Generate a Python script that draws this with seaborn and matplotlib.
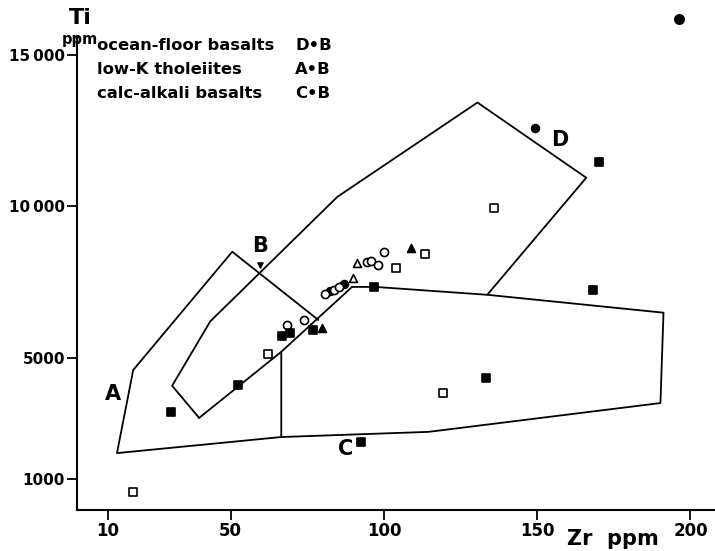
import numpy as np
import pandas as pd
import matplotlib
matplotlib.use("Agg")
import matplotlib.pyplot as plt
import seaborn as sns

# ---------------- data ----------------
filled_circle_zr = [196.1, 149.4, 87.0, 82.5]
filled_circle_ti = [16190, 12590, 7440, 7210]

open_circle_zr = [68.4, 74.0, 80.8, 83.8, 85.4, 94.6, 95.9, 98.1, 100.1]
open_circle_ti = [6090, 6250, 7110, 7240, 7340, 8170, 8200, 8070, 8500]

open_tri_zr = [91.3, 90.0]
open_tri_ti = [8135, 7640]

filled_tri_zr = [108.9, 79.9]
filled_tri_ti = [8630, 5990]

filled_sq_zr = [30.6, 52.4, 66.8, 69.4, 76.9, 96.8, 133.4, 92.6, 168.3, 170.3]
filled_sq_ti = [3220, 4110, 5730, 5830, 5920, 7340, 4340, 2230, 7240, 11470]

open_sq_zr = [18.2, 62.2, 104.0, 113.5, 136.0, 119.4]
open_sq_ti = [580, 5130, 7970, 8430, 9950, 3840]

# field boundaries
field_a_zr = [66.5, 12.9, 18.2, 50.5, 78.6]
field_a_ti = [2390, 1860, 4600, 8500, 6250]

field_d_zr = [39.7, 30.9, 43.3, 84.8, 130.5, 166.0, 133.7]
field_d_ti = [3020, 4080, 6200, 10310, 13420, 10940, 7080]

field_b_low_zr = [39.7, 66.5, 89.6]
field_b_low_ti = [3020, 5200, 7340]

field_c_zr = [89.6, 97.1, 133.7, 191.2, 190.2, 114.5, 66.5, 66.5]
field_c_ti = [7340, 7340, 7080, 6490, 3510, 2560, 2390, 5200]

x_ticks = [10, 50, 100, 150, 200]
x_tick_labels = ["10", "50", "100", "150", "200"]
y_ticks = [1000, 5000, 10000, 15000]
y_tick_labels = ["1000", "5000", "10\u2009000", "15\u2009000"]

legend_names = ["ocean-floor basalts", "low-K tholeiites", "calc-alkali basalts"]
legend_codes = ["D\u2022B", "A\u2022B", "C\u2022B"]

# ---------------- figure ----------------
sns.set_style("ticks")
plt.rcParams["font.family"] = ["DejaVu Sans"]
plt.rcParams["font.weight"] = "bold"
for k in ["text.color", "axes.labelcolor", "xtick.color", "ytick.color",
          "axes.edgecolor"]:
    plt.rcParams[k] = "black"

fig = plt.figure(figsize=(7.15, 5.51), dpi=100)
ax = fig.add_axes([0.1083, 0.0753, 0.8917, 0.9247])
ax.set_xlim(0, 208)
ax.set_ylim(0, 16800)

lw = 1.3
def poly(xs, ys):
    df = pd.DataFrame({"x": xs, "y": ys})
    sns.lineplot(data=df, x="x", y="y", sort=False, estimator=None,
                 color="black", linewidth=lw, ax=ax)

poly(field_a_zr, field_a_ti)
poly(field_d_zr, field_d_ti)
poly(field_b_low_zr, field_b_low_ti)
poly(field_c_zr, field_c_ti)

def pts(xs, ys, marker, filled, s):
    df = pd.DataFrame({"x": xs, "y": ys})
    sns.scatterplot(data=df, x="x", y="y", marker=marker, s=s,
                    facecolor="black" if filled else "white",
                    edgecolor="black", linewidth=1.2, ax=ax, zorder=3,
                    clip_on=False)

pts(filled_circle_zr[:1], filled_circle_ti[:1], "o", True, 45)
pts(filled_circle_zr[1:], filled_circle_ti[1:], "o", True, 32)
pts(open_circle_zr, open_circle_ti, "o", False, 34)
pts(open_tri_zr, open_tri_ti, "^", False, 32)
pts(filled_tri_zr, filled_tri_ti, "^", True, 32)
pts(filled_sq_zr, filled_sq_ti, "s", True, 32)
pts(open_sq_zr, open_sq_ti, "s", False, 28)

# field letters
ax.text(11.5, 3810, "A", fontsize=15, fontweight="bold", ha="center", va="center")
ax.text(59.5, 8700, "B", fontsize=15, fontweight="bold", ha="center", va="center")
ax.scatter([59.5], [8050], marker="v", s=14, color="black", zorder=3)
ax.text(87.5, 1980, "C", fontsize=15, fontweight="bold", ha="center", va="center")
ax.text(157.5, 12200, "D", fontsize=15, fontweight="bold", ha="center", va="center")

# legend text
for i, (nm, cd) in enumerate(zip(legend_names, legend_codes)):
    yy = 15300 - i * 790
    ax.text(6.5, yy, nm, fontsize=11.8, fontweight="bold", ha="left", va="center")
    ax.text(71.0, yy, cd, fontsize=11.8, fontweight="bold", ha="left", va="center")

# axes
sns.despine(ax=ax)
ax.spines["left"].set_linewidth(1.5)
ax.spines["bottom"].set_linewidth(1.5)
ax.spines["left"].set_bounds(0, 15600)
ax.set_xticks(x_ticks)
ax.set_xticklabels(x_tick_labels, fontsize=12, fontweight="bold")
ax.set_yticks(y_ticks)
ax.set_yticklabels(y_tick_labels, fontsize=11, fontweight="bold")
ax.tick_params(axis="both", direction="out", length=7, width=1.3, pad=2)
ax.set_xlabel("")
ax.set_ylabel("")

fig.text(0.112, 0.967, "Ti", fontsize=16, fontweight="bold", ha="center", va="center")
fig.text(0.112, 0.929, "ppm", fontsize=10.5, fontweight="bold", ha="center", va="center")
fig.text(0.857, 0.022, "Zr  ppm", fontsize=15, fontweight="bold", ha="center", va="center")

fig.savefig("out.png", dpi=100)
